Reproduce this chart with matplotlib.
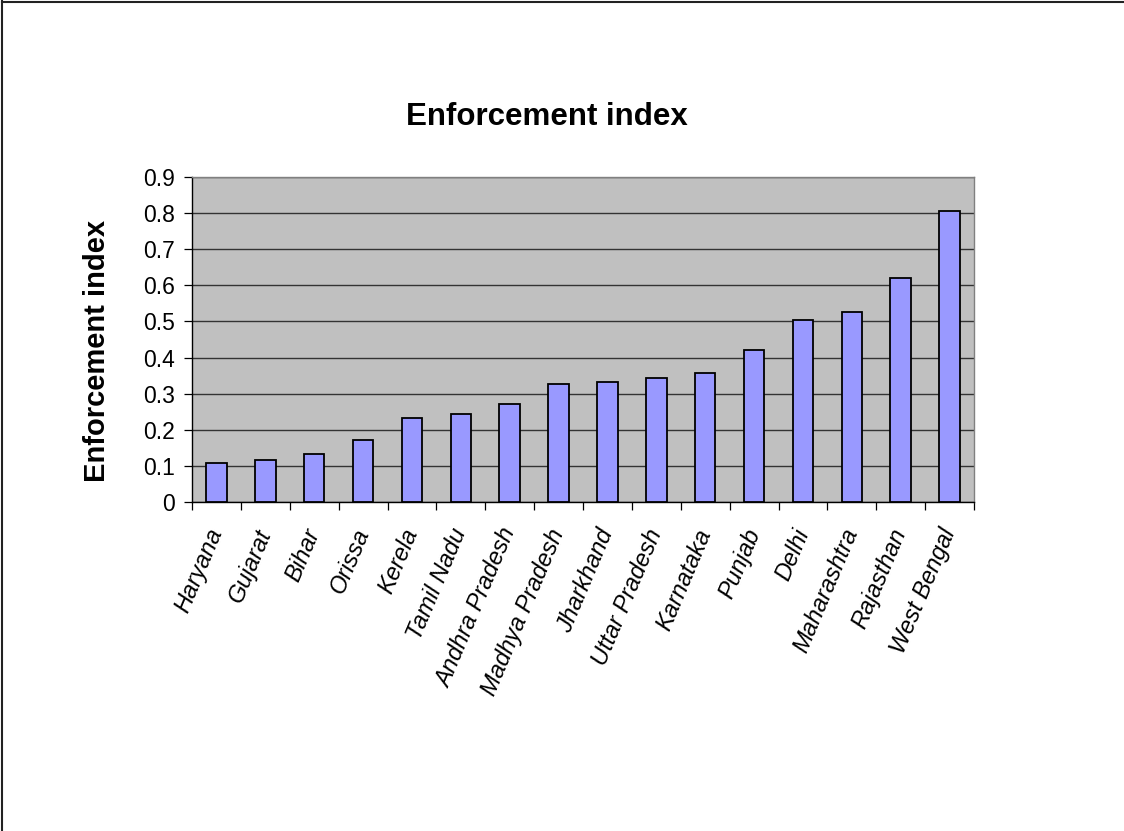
import matplotlib
matplotlib.use("Agg")
import matplotlib.pyplot as plt
from matplotlib.lines import Line2D

plt.rcParams['font.family'] = ['Liberation Sans', 'DejaVu Sans']

states = ["Haryana", "Gujarat", "Bihar", "Orissa", "Kerela", "Tamil Nadu",
          "Andhra Pradesh", "Madhya Pradesh", "Jharkhand", "Uttar Pradesh",
          "Karnataka", "Punjab", "Delhi", "Maharashtra", "Rajasthan", "West Bengal"]
values = [0.109, 0.116, 0.132, 0.172, 0.233, 0.244, 0.272, 0.328,
          0.333, 0.344, 0.356, 0.421, 0.505, 0.527, 0.621, 0.805]
yticks = [0, 0.1, 0.2, 0.3, 0.4, 0.5, 0.6, 0.7, 0.8, 0.9]
ytick_labels = ["0", "0.1", "0.2", "0.3", "0.4", "0.5", "0.6", "0.7", "0.8", "0.9"]
title = "Enforcement index"
ylabel = "Enforcement index"

fig = plt.figure(figsize=(11.24, 8.31), dpi=100)
ax = fig.add_axes([192/1124, 1-502/831, (974-192)/1124, (502-177)/831])
ax.set_facecolor('#C0C0C0')

x = list(range(len(states)))
ax.bar(x, values, width=0.42, color='#9999FF', edgecolor='black', linewidth=1.3, zorder=3)

ax.set_xlim(-0.5, len(states) - 0.5)
ax.set_ylim(0, 0.9)
ax.set_yticks(yticks)
ax.set_yticklabels(ytick_labels, fontsize=16.5)
ax.yaxis.grid(True, color='#333333', linewidth=1.0, zorder=1)
ax.set_axisbelow(True)

ax.set_xticks(x)
ax.set_xticklabels(states, rotation=67, rotation_mode='anchor', ha='right', va='center',
                   fontsize=17, style='italic')
ax.set_xticks([i - 0.5 for i in range(len(states) + 1)], minor=True)
ax.tick_params(axis='x', which='major', length=0, pad=20)
ax.tick_params(axis='x', which='minor', length=6, width=0.9, direction='out', color='black')
ax.tick_params(axis='y', length=6, width=0.9, direction='out', pad=6, color='black')

for s in ['left', 'bottom']:
    ax.spines[s].set_color('black')
    ax.spines[s].set_linewidth(1.0)
for s in ['top', 'right']:
    ax.spines[s].set_color('#808080')
    ax.spines[s].set_linewidth(1.0)

ax.set_ylabel(ylabel, fontsize=21, fontweight='bold')
ax.yaxis.set_label_coords(-0.1035, 0.465)

fig.text(547/1124, 1-117/831, title, fontsize=22.5, fontweight='bold', ha='center', va='center')

# outer border (top and left only)
fig.add_artist(Line2D([0.002, 1.0], [1-1.5/831, 1-1.5/831], color='#222222', linewidth=1.5, transform=fig.transFigure))
fig.add_artist(Line2D([2/1124, 2/1124], [0, 1], color='#222222', linewidth=1.5, transform=fig.transFigure))

fig.savefig("out.png", dpi=100)
